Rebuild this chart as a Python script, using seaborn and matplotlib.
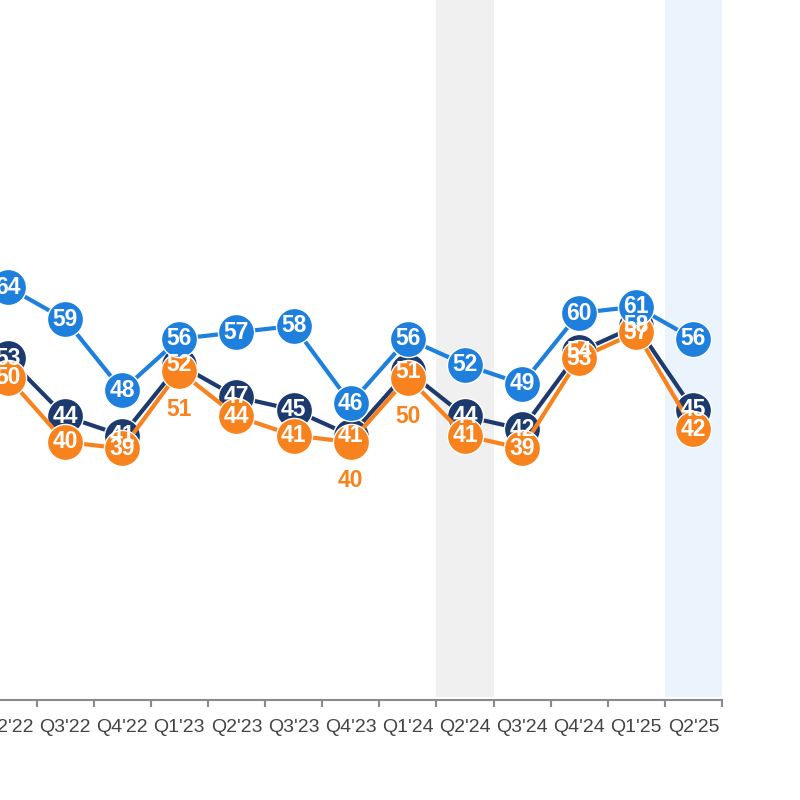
import pandas as pd
import seaborn as sns
import matplotlib.pyplot as plt
import numpy as np

quarters = ["Q2'22", "Q3'22", "Q4'22", "Q1'23", "Q2'23", "Q3'23", "Q4'23",
            "Q1'24", "Q2'24", "Q3'24", "Q4'24", "Q1'25", "Q2'25"]
navy_vals = [53, 44, 41, 52, 47, 45, 41, 51, 44, 42, 54, 58, 45]
orange_vals = [50, 40, 39, 51, 44, 41, 40, 50, 41, 39, 53, 57, 42]
blue_vals = [64, 59, 48, 56, 57, 58, 46, 56, 52, 49, 60, 61, 56]

# orange labels that would sit on top of the navy ones get pushed below
orange_below = ["Q1'23", "Q4'23", "Q1'24"]

series_names = ["Navy", "Orange", "Blue"]
colors = {"Navy": "#1c3a6e", "Orange": "#f7821e", "Blue": "#1e80dc"}

df = pd.DataFrame({
    "quarter": quarters * 3,
    "value": navy_vals + orange_vals + blue_vals,
    "series": ["Navy"] * len(quarters) + ["Orange"] * len(quarters) + ["Blue"] * len(quarters),
})

sns.set_style("white")
plt.rcParams["font.family"] = ["Liberation Sans", "DejaVu Sans"]

fig = plt.figure(figsize=(8, 8), dpi=100)
ax = fig.add_axes([0, 0.125, 0.9025, 0.875])

# highlighted quarters
ax.axvspan(quarters.index("Q2'24") - 0.5, quarters.index("Q2'24") + 0.5,
           ymin=0.004, color="#f0f0f0", zorder=0, lw=0)
ax.axvspan(quarters.index("Q2'25") - 0.5, quarters.index("Q2'25") + 0.5,
           ymin=0.004, color="#ebf3fc", zorder=0, lw=0)

sns.lineplot(data=df, x="quarter", y="value", hue="series", hue_order=series_names,
             palette=colors, marker="o", markersize=26, markeredgecolor="white",
             markeredgewidth=1, linewidth=3, sort=False, legend=False, ax=ax)

# data labels
for name, vals in zip(series_names, [navy_vals, orange_vals, blue_vals]):
    for i, (q, v) in enumerate(zip(quarters, vals)):
        if name == "Orange" and q in orange_below:
            ax.annotate(str(v), (i, v), xytext=(0, -28), textcoords="offset points",
                        ha="center", va="center", color=colors["Orange"],
                        fontsize=16.5, fontweight="bold", zorder=6)
        else:
            ax.text(i, v, str(v), ha="center", va="center", color="white",
                    fontsize=16.5, fontweight="bold", zorder=6)

ax.set_xlim(-0.14, 12.5)
ax.set_ylim(0, 700 / 6.45)

ax.set_xticks(range(len(quarters)))
ax.set_xticklabels(quarters)
ax.set_xticks(np.arange(0.5, len(quarters), 1), minor=True)
ax.tick_params(axis="x", which="major", length=0, pad=14, labelsize=14, labelcolor="#444444")
ax.tick_params(axis="x", which="minor", length=5, width=1.5, color="#8a8a8a", bottom=True)
ax.set_yticks([])
ax.set_xlabel("")
ax.set_ylabel("")

for side in ["top", "left", "right"]:
    ax.spines[side].set_visible(False)
ax.spines["bottom"].set_color("#8a8a8a")
ax.spines["bottom"].set_linewidth(1.5)

plt.savefig("out.png", dpi=100)
